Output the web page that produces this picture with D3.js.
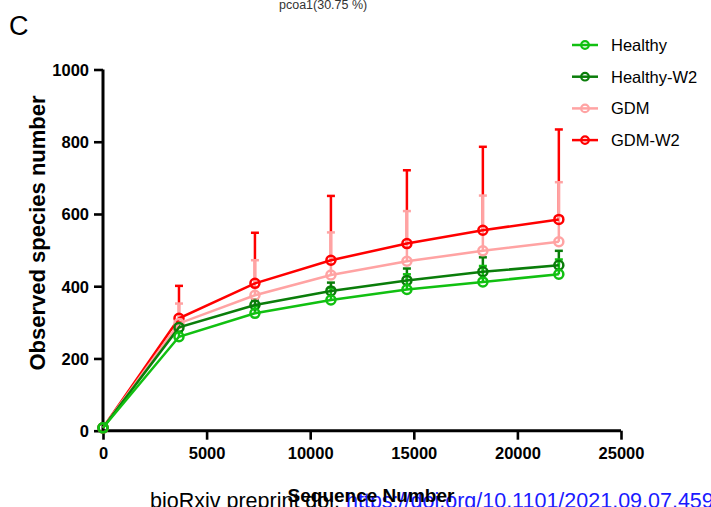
<!DOCTYPE html>
<html><head><meta charset="utf-8">
<script src="https://cdn.jsdelivr.net/npm/d3@7"></script>
<style>body{margin:0;background:#fff;}svg{display:block;}</style>
</head><body>
<svg id="c" width="711" height="507"></svg>
<script>
const seqNumbers = [0, 3667, 7333, 11000, 14667, 18333, 22000];
const seriesNames = ["Healthy", "Healthy-W2", "GDM", "GDM-W2"];
const healthy     = [8, 260, 325, 362, 391, 412, 433];
const healthyW2   = [8, 286, 348, 387, 416, 440, 458];
const gdm         = [8, 297, 375, 431, 469, 498, 523];
const gdmW2       = [8, 311, 408, 472, 518, 555, 585];
const healthyTop   = [8, 274, 345, 395, 433, 456, 474];
const healthyW2Top = [8, 298, 363, 410, 449, 480, 498];
const gdmTop       = [8, 352, 472, 549, 608, 651, 688];
const gdmW2Top     = [8, 401, 548, 650, 721, 786, 834];
const xTicks = [0, 5000, 10000, 15000, 20000, 25000];
const yTicks = [0, 200, 400, 600, 800, 1000];
const colors = ["#11c011", "#0a7d0a", "#ffa3a3", "#ff0000"];

const svg = d3.select("#c");
const x = d3.scaleLinear().domain([0, 25000]).range([103, 621]);
const y = d3.scaleLinear().domain([0, 1000]).range([430.7, 69.5]);
const font = "Liberation Sans, Arial, Helvetica, sans-serif";

// header texts
svg.append("text").attr("x", 279).attr("y", 9).attr("font-family", font)
  .attr("font-size", 12.5).attr("fill", "#333").text("pcoa1(30.75 %)");
svg.append("text").attr("x", 9).attr("y", 35).attr("font-family", font)
  .attr("font-size", 27).attr("fill", "#000").text("C");

// axes
const xAxis = svg.append("g").attr("transform", "translate(0,430.7)")
  .call(d3.axisBottom(x).tickValues(xTicks).tickFormat(d3.format("d")).tickSize(9).tickPadding(6));
const yAxis = svg.append("g").attr("transform", "translate(103,0)")
  .call(d3.axisLeft(y).tickValues(yTicks).tickFormat(d3.format("d")).tickSize(9).tickPadding(5));
[xAxis, yAxis].forEach(g => {
  g.select(".domain").attr("stroke", "#000").attr("stroke-width", 3);
  g.selectAll(".tick line").attr("stroke", "#000").attr("stroke-width", 2.6);
  g.selectAll(".tick text").attr("font-family", font).attr("font-size", 16.5)
    .attr("font-weight", "bold").attr("fill", "#000");
});
xAxis.select(".domain").attr("d", `M${x(0)},0H${x(25000)}`);
yAxis.select(".domain").attr("d", `M0,${y(0)}V${y(1000)}`);
yAxis.selectAll(".tick text").attr("dy", "0.36em");
xAxis.selectAll(".tick text").attr("dy", "0.8em");

// axis titles
svg.append("text").attr("transform", "translate(45,233) rotate(-90)")
  .attr("text-anchor", "middle").attr("font-family", font).attr("font-size", 22)
  .attr("font-weight", "bold").text("Observed species number");

// series
const series = [
  {name: seriesNames[3], vals: gdmW2, top: gdmW2Top, color: colors[3]},
  {name: seriesNames[2], vals: gdm, top: gdmTop, color: colors[2]},
  {name: seriesNames[1], vals: healthyW2, top: healthyW2Top, color: colors[1]},
  {name: seriesNames[0], vals: healthy, top: healthyTop, color: colors[0]},
];
const line = d3.line().x(d => x(d[0])).y(d => y(d[1]));
series.forEach(s => {
  const g = svg.append("g");
  seqNumbers.forEach((sn, i) => {
    if (i === 0) return;
    g.append("line").attr("x1", x(sn)).attr("x2", x(sn)).attr("y1", y(s.vals[i])).attr("y2", y(s.top[i]))
      .attr("stroke", s.color).attr("stroke-width", 2.5);
    g.append("line").attr("x1", x(sn) - 4).attr("x2", x(sn) + 4).attr("y1", y(s.top[i])).attr("y2", y(s.top[i]))
      .attr("stroke", s.color).attr("stroke-width", 2.5);
  });
});
series.forEach(s => {
  const g = svg.append("g");
  g.append("path").datum(seqNumbers.map((sn, i) => [sn, s.vals[i]])).attr("d", line)
    .attr("fill", "none").attr("stroke", s.color).attr("stroke-width", 2.5);
  g.selectAll("circle").data(seqNumbers.map((sn, i) => [sn, s.vals[i]])).enter().append("circle")
    .attr("cx", d => x(d[0])).attr("cy", d => y(d[1])).attr("r", 4.5)
    .attr("fill", "none").attr("stroke", s.color).attr("stroke-width", 2.5);
});

// legend
const legendOrder = [0, 1, 2, 3];
legendOrder.forEach((k, i) => {
  const yy = 45 + i * 31.7;
  const g = svg.append("g");
  g.append("line").attr("x1", 572).attr("x2", 598).attr("y1", yy).attr("y2", yy)
    .attr("stroke", colors[k]).attr("stroke-width", 2.5);
  g.append("circle").attr("cx", 585).attr("cy", yy).attr("r", 3.8)
    .attr("fill", "none").attr("stroke", colors[k]).attr("stroke-width", 2.2);
  g.append("text").attr("x", 611).attr("y", yy + 6).attr("font-family", font)
    .attr("font-size", 16.5).attr("fill", "#000").text(seriesNames[k]);
});

// watermark + x title
const wm = svg.append("text").attr("x", 150).attr("y", 508).attr("font-family", font).attr("font-size", 21.5);
wm.append("tspan").attr("fill", "#000").text("bioRxiv preprint doi: ");
wm.append("tspan").attr("fill", "#1a1aff").text("https://doi.org/10.1101/2021.09.07.459");
svg.append("text").attr("x", 371).attr("y", 502).attr("text-anchor", "middle")
  .attr("font-family", font).attr("font-size", 19).attr("font-weight", "bold").text("Sequence Number");
</script>
</body></html>
